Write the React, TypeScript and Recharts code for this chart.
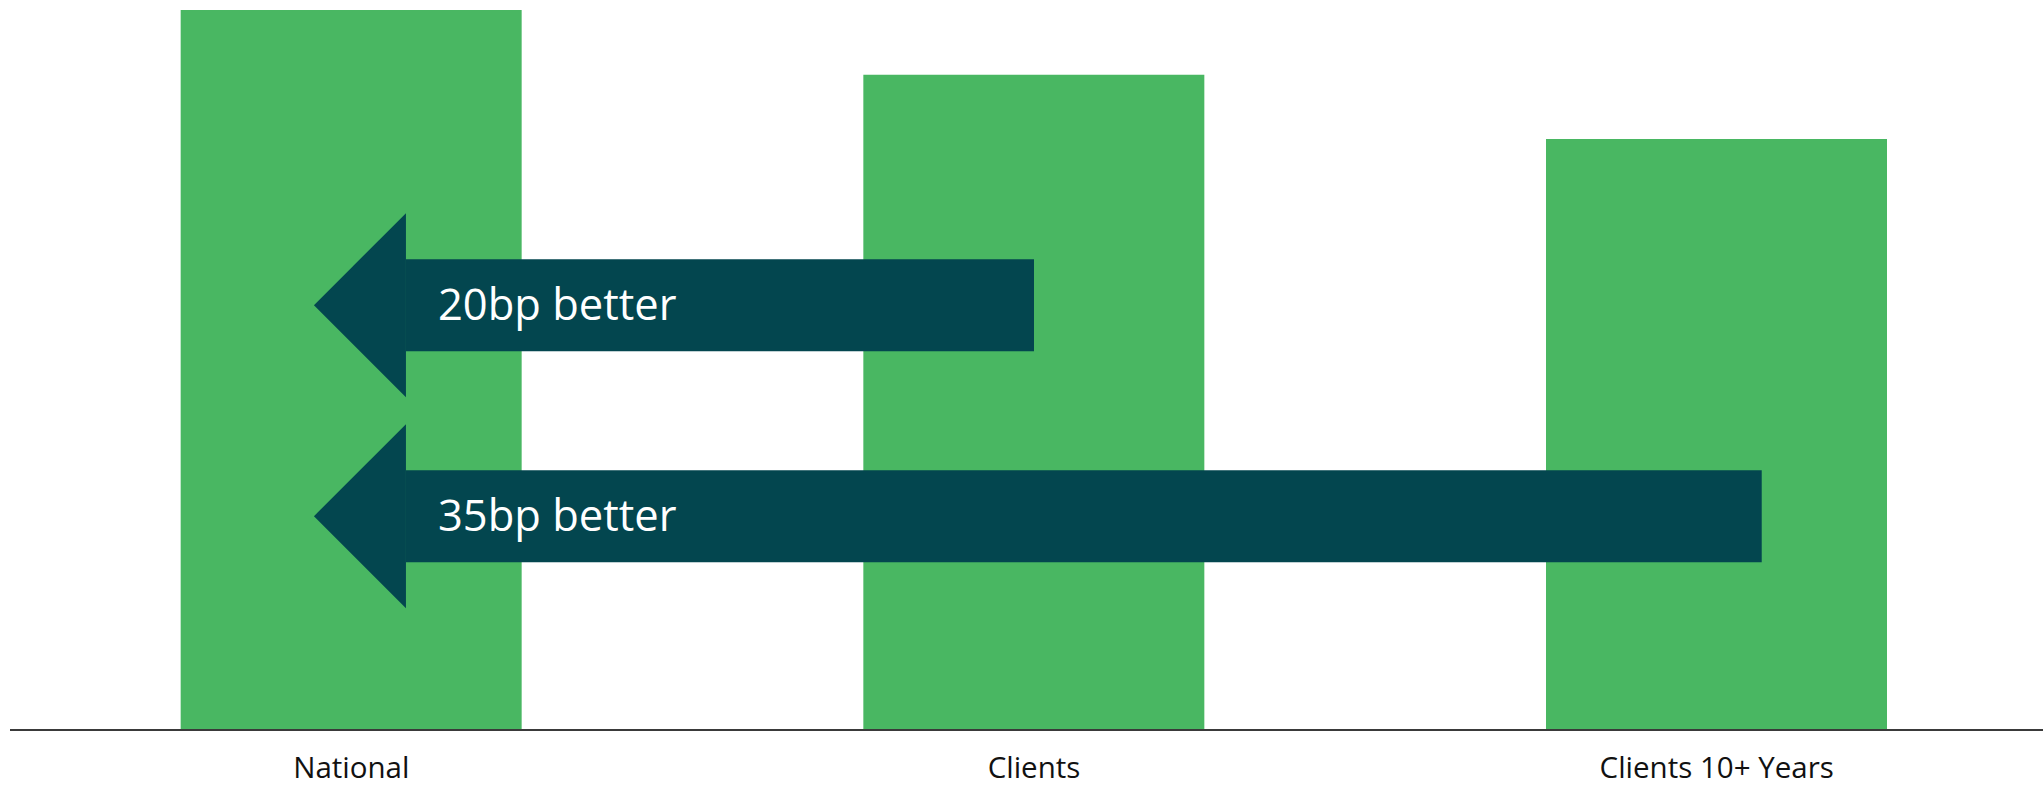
import { Bar, ComposedChart, Scatter, XAxis, YAxis } from "recharts";

const categories = ["National", "Clients", "Clients 10+ Years"];
const values = [100, 91, 82.1];

// arrow annotations: x in category-band units (0..3), y in value units
const arrowLabels = ["20bp better", "35bp better"];
const arrowHeadX = [0.58, 0.58];
const arrowTailX = [1.5, 2.566];
const arrowY = [59, 29.7];

const GREEN = "#49B762";
const TEAL = "#03464F";
const FONT = "'Open Sans', 'DejaVu Sans', sans-serif";
const HEAD = 92;

const data = categories.map((name, i) => ({ name, value: values[i] }));

const arrows = arrowLabels.map((label, i) => [
  { x: arrowHeadX[i], y: arrowY[i], label },
  { x: arrowTailX[i], y: arrowY[i] },
]);

const ArrowHead = (props: any) => {
  const { cx, cy, payload } = props;
  if (!payload || !payload.label) return <g />;
  const d = `M${cx},${cy - HEAD} L${cx - HEAD},${cy} L${cx},${cy + HEAD} Z`;
  return (
    <g>
      <path d={d} fill={TEAL} />
      <text
        x={cx + 32}
        y={cy + 15}
        fill="#ffffff"
        fontSize={43.5}
        fontFamily={FONT}
      >
        {payload.label}
      </text>
    </g>
  );
};

const CategoryTick = (props: any) => {
  const { x, y, payload } = props;
  return (
    <text
      x={x}
      y={y}
      dy={48}
      textAnchor="middle"
      fill="#111111"
      fontSize={29.5}
      fontFamily={FONT}
    >
      {payload.value}
    </text>
  );
};

export default function App() {
  return (
    <div
      style={{
        position: "absolute",
        left: 0,
        top: 0,
        width: 2043,
        height: 786,
        overflow: "hidden",
        background: "#ffffff",
      }}
    >
      <ComposedChart
        width={2058}
        height={786}
        data={data}
        margin={{ top: 10, right: 0, bottom: 0, left: 10 }}
        barCategoryGap="25%"
      >
        <XAxis
          dataKey="name"
          height={56}
          tickLine={false}
          tickSize={0}
          tickMargin={0}
          axisLine={{ stroke: "#3a3a3a", strokeWidth: 2 }}
          tick={<CategoryTick />}
          interval={0}
        />
        <XAxis
          xAxisId="arrow"
          dataKey="x"
          type="number"
          domain={[0, 3]}
          allowDataOverflow
          hide
        />
        <YAxis hide domain={[0, 100]} allowDataOverflow />
        <Bar dataKey="value" fill={GREEN} isAnimationActive={false} />
        {arrows.map((pts, i) => (
          <Scatter
            key={arrowLabels[i]}
            xAxisId="arrow"
            data={pts}
            dataKey="y"
            line={{ stroke: TEAL, strokeWidth: HEAD }}
            shape={<ArrowHead />}
            isAnimationActive={false}
          />
        ))}
      </ComposedChart>
    </div>
  );
}
